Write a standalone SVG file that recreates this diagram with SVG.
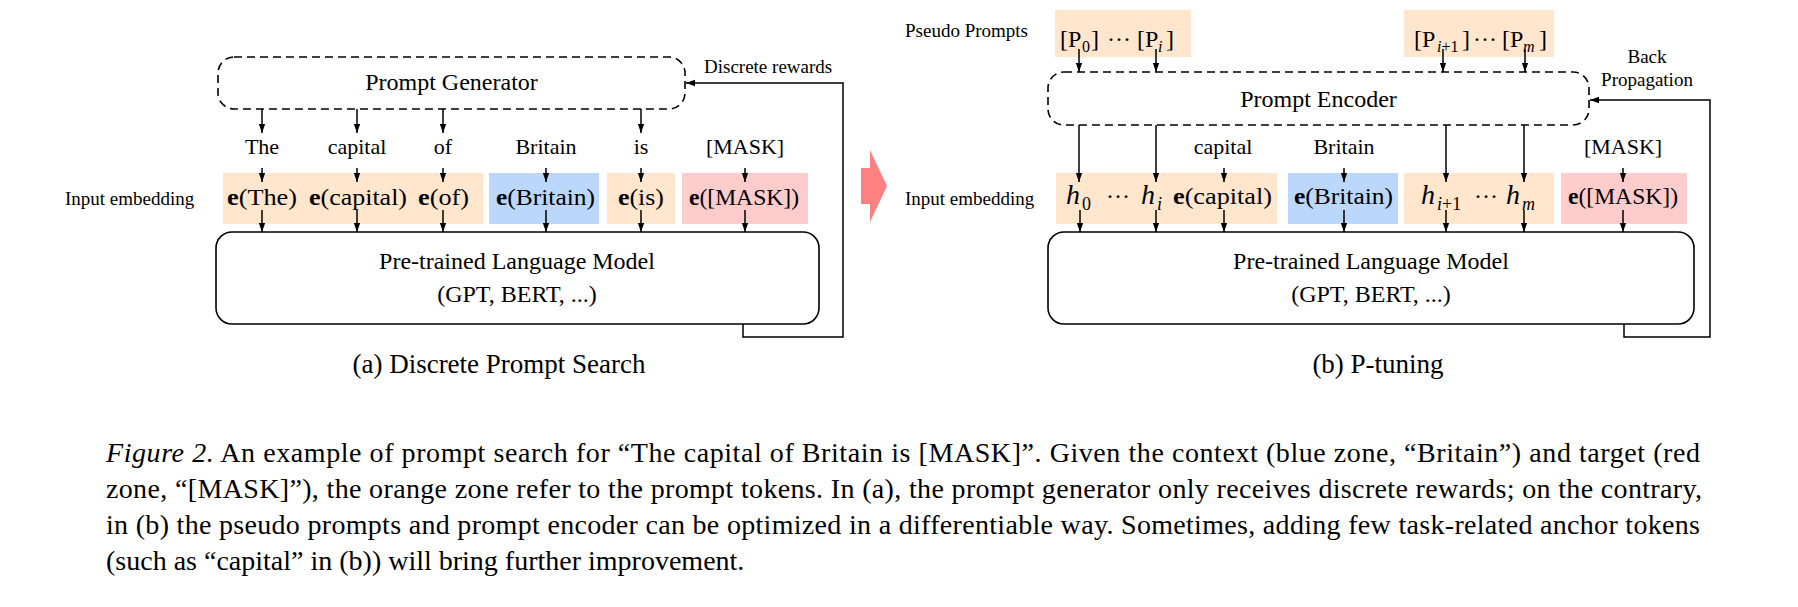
<svg xmlns="http://www.w3.org/2000/svg" width="1798" height="607" viewBox="0 0 1798 607">
<style>
text{font-family:"Liberation Serif","Times New Roman",serif;fill:#000}
.lbl{font-size:19px}
.tok{font-size:22px;text-anchor:middle}
.big{font-size:24px;text-anchor:middle}
.emb{font-size:24px}
.cap{font-size:27px}
.capt{font-size:28px}
.sub{font-size:16px}
.hh{font-size:28px;font-style:italic}
.hs{font-size:18px}
.dash{fill:#fff;stroke:#000;stroke-width:1.6;stroke-dasharray:8 5}
.solid{fill:#fff;stroke:#000;stroke-width:1.6}
.or{fill:#FFE6CC}
.bl{fill:#BBD7FB}
.rd{fill:#FFCCCC}
.ar{stroke:#000;stroke-width:1.5;fill:none;marker-end:url(#ah)}
</style>
<defs>
<marker id="ah" viewBox="0 0 10 10" refX="10" refY="5" markerWidth="9" markerHeight="9" markerUnits="userSpaceOnUse" orient="auto">
<path d="M0,1.5 L10,5 L0,8.5 z" fill="#000"/>
</marker>
</defs>
<rect width="1798" height="607" fill="#fff"/>

<!-- Panel (a) -->
<g id="prompt-generator">
<rect class="dash" x="218" y="57" width="467" height="52" rx="16"/>
<text class="big" x="451.5" y="90">Prompt Generator</text>
</g>
<g id="tokens-a">
<text class="tok" x="262" y="154">The</text>
<text class="tok" x="357" y="154">capital</text>
<text class="tok" x="443" y="154">of</text>
<text class="tok" x="546" y="154">Britain</text>
<text class="tok" x="641" y="154">is</text>
<text class="tok" x="745" y="154">[MASK]</text>
</g>
<g id="input-embedding-a">
<text class="lbl" x="65" y="205">Input embedding</text>
<rect class="or" x="223" y="173" width="260" height="51"/>
<rect class="bl" x="489" y="173" width="110" height="51"/>
<rect class="or" x="607" y="173" width="68" height="51"/>
<rect class="rd" x="682" y="173" width="126" height="51"/>
<text class="emb" x="227" y="205" textLength="70" lengthAdjust="spacingAndGlyphs"><tspan font-weight="bold">e</tspan>(The)</text>
<text class="emb" x="309" y="205" textLength="98" lengthAdjust="spacingAndGlyphs"><tspan font-weight="bold">e</tspan>(capital)</text>
<text class="emb" x="418" y="205" textLength="51" lengthAdjust="spacingAndGlyphs"><tspan font-weight="bold">e</tspan>(of)</text>
<text class="emb" x="496" y="205" textLength="99" lengthAdjust="spacingAndGlyphs"><tspan font-weight="bold">e</tspan>(Britain)</text>
<text class="emb" x="618" y="205" textLength="46" lengthAdjust="spacingAndGlyphs"><tspan font-weight="bold">e</tspan>(is)</text>
<text class="emb" x="689" y="205" textLength="110" lengthAdjust="spacingAndGlyphs"><tspan font-weight="bold">e</tspan>([MASK])</text>
</g>
<g id="plm-a">
<rect class="solid" x="216" y="232" width="603" height="92" rx="16"/>
<text class="big" x="517" y="269">Pre-trained Language Model</text>
<text class="big" x="517" y="302">(GPT, BERT, ...)</text>
</g>
<g id="labels-a">
<text class="lbl" x="704" y="73">Discrete rewards</text>
<text class="cap" x="499" y="373" text-anchor="middle">(a) Discrete Prompt Search</text>
</g>

<!-- transition arrow -->
<g id="transition-arrow">
<polygon points="861,168 870,168 870,150 887,186 870,222 870,204 861,204" fill="#FF8080"/>
</g>

<!-- Panel (b) -->
<g id="pseudo-prompts">
<text class="lbl" x="905" y="37">Pseudo Prompts</text>
<rect class="or" x="1055" y="10" width="136" height="47"/>
<rect class="or" x="1404" y="10" width="150" height="47"/>
<text class="emb" y="47"><tspan x="1060">[P</tspan><tspan class="sub" x="1082" y="52">0</tspan><tspan x="1091" y="47">]</tspan><tspan x="1107">···</tspan><tspan x="1137">[P</tspan><tspan class="sub" x="1158" y="52" font-style="italic">i</tspan><tspan x="1166" y="47">]</tspan></text>
<text class="emb" y="47"><tspan x="1414">[P</tspan><tspan class="sub" x="1437" y="52"><tspan font-style="italic">i</tspan>+1</tspan><tspan x="1462" y="47">]</tspan><tspan x="1473">···</tspan><tspan x="1502">[P</tspan><tspan class="sub" x="1523" y="52" font-style="italic">m</tspan><tspan x="1539" y="47">]</tspan></text>
</g>
<g id="prompt-encoder">
<rect class="dash" x="1048" y="72" width="541" height="53" rx="16"/>
<text class="big" x="1318.5" y="107">Prompt Encoder</text>
</g>
<g id="tokens-b">
<text class="tok" x="1223" y="154">capital</text>
<text class="tok" x="1344" y="154">Britain</text>
<text class="tok" x="1623" y="154">[MASK]</text>
</g>
<g id="input-embedding-b">
<text class="lbl" x="905" y="205">Input embedding</text>
<rect class="or" x="1056" y="173" width="221" height="51"/>
<rect class="bl" x="1288" y="173" width="110" height="51"/>
<rect class="or" x="1404" y="173" width="150" height="51"/>
<rect class="rd" x="1561" y="173" width="126" height="51"/>
<text y="204"><tspan class="hh" x="1066">h</tspan><tspan class="hs" x="1082" y="210">0</tspan><tspan class="emb" x="1106" y="204">···</tspan><tspan class="hh" x="1141">h</tspan><tspan class="hs" x="1157" y="210" font-style="italic">i</tspan></text>
<text class="emb" x="1173" y="204" textLength="99" lengthAdjust="spacingAndGlyphs"><tspan font-weight="bold">e</tspan>(capital)</text>
<text class="emb" x="1294" y="204" textLength="99" lengthAdjust="spacingAndGlyphs"><tspan font-weight="bold">e</tspan>(Britain)</text>
<text y="204"><tspan class="hh" x="1421">h</tspan><tspan class="hs" x="1437" y="210"><tspan font-style="italic">i</tspan>+1</tspan><tspan class="emb" x="1474" y="204">···</tspan><tspan class="hh" x="1506">h</tspan><tspan class="hs" x="1522" y="210" font-style="italic">m</tspan></text>
<text class="emb" x="1568" y="204" textLength="110" lengthAdjust="spacingAndGlyphs"><tspan font-weight="bold">e</tspan>([MASK])</text>
</g>
<g id="plm-b">
<rect class="solid" x="1048" y="232" width="646" height="92" rx="16"/>
<text class="big" x="1371" y="269">Pre-trained Language Model</text>
<text class="big" x="1371" y="302">(GPT, BERT, ...)</text>
</g>
<g id="labels-b">
<text class="lbl" x="1647" y="63" text-anchor="middle">Back</text>
<text class="lbl" x="1647" y="86" text-anchor="middle">Propagation</text>
<text class="cap" x="1378" y="373" text-anchor="middle">(b) P-tuning</text>
</g>

<!-- connectors -->
<g id="connectors">
<path class="ar" d="M262,109 V133"/>
<path class="ar" d="M357,109 V133"/>
<path class="ar" d="M443,109 V133"/>
<path class="ar" d="M641,109 V133"/>
<path class="ar" d="M262,168 V182"/>
<path class="ar" d="M357,168 V182"/>
<path class="ar" d="M443,168 V182"/>
<path class="ar" d="M546,168 V182"/>
<path class="ar" d="M641,168 V182"/>
<path class="ar" d="M745,168 V182"/>
<path class="ar" d="M262,210 V232"/>
<path class="ar" d="M357,210 V232"/>
<path class="ar" d="M443,210 V232"/>
<path class="ar" d="M546,210 V232"/>
<path class="ar" d="M641,210 V232"/>
<path class="ar" d="M745,210 V232"/>
<path class="ar" d="M743,324 V337 H843 V83 H686"/>

<path class="ar" d="M1079,49 V72"/>
<path class="ar" d="M1156,49 V72"/>
<path class="ar" d="M1443,49 V72"/>
<path class="ar" d="M1525,49 V72"/>
<path class="ar" d="M1079,125 V182"/>
<path class="ar" d="M1156,125 V182"/>
<path class="ar" d="M1446,125 V182"/>
<path class="ar" d="M1524,125 V182"/>
<path class="ar" d="M1224,168 V182"/>
<path class="ar" d="M1344,168 V182"/>
<path class="ar" d="M1623,168 V182"/>
<path class="ar" d="M1080,210 V232"/>
<path class="ar" d="M1156,210 V232"/>
<path class="ar" d="M1224,210 V232"/>
<path class="ar" d="M1344,210 V232"/>
<path class="ar" d="M1446,210 V232"/>
<path class="ar" d="M1524,210 V232"/>
<path class="ar" d="M1623,210 V232"/>
<path class="ar" d="M1624,324 V337 H1710 V100 H1590"/>
</g>

<!-- figure caption -->
<g id="caption">
<text class="capt" x="106" y="462" textLength="1594" lengthAdjust="spacing"><tspan font-style="italic">Figure 2.</tspan> An example of prompt search for “The capital of Britain is [MASK]”. Given the context (blue zone, “Britain”) and target (red</text>
<text class="capt" x="106" y="498" textLength="1596" lengthAdjust="spacing">zone, “[MASK]”), the orange zone refer to the prompt tokens. In (a), the prompt generator only receives discrete rewards; on the contrary,</text>
<text class="capt" x="106" y="534" textLength="1594" lengthAdjust="spacing">in (b) the pseudo prompts and prompt encoder can be optimized in a differentiable way. Sometimes, adding few task-related anchor tokens</text>
<text class="capt" x="106" y="570">(such as “capital” in (b)) will bring further improvement.</text>
</g>
</svg>
